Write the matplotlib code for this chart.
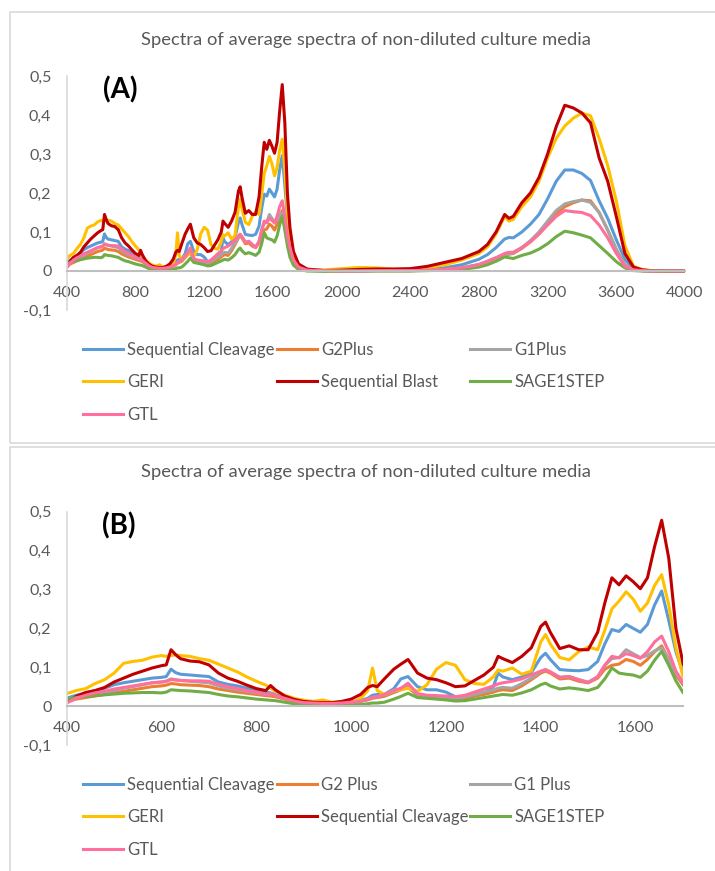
import matplotlib
matplotlib.use("Agg")
import matplotlib.pyplot as plt
from matplotlib.patches import Rectangle
from matplotlib.ticker import FuncFormatter
import numpy as np

plt.rcParams['font.family'] = ['Lato', 'DejaVu Sans']

# wavenumber grid (cm-1) used for all series
wavenumber = [
    400, 420, 440, 460, 480, 500, 520, 540, 560, 580,
    600, 610, 620, 630, 640, 660, 680, 700, 720, 740,
    760, 780, 800, 820, 830, 840, 860, 880, 900, 920,
    940, 960, 980, 1000, 1020, 1035, 1045, 1055, 1070, 1090,
    1105, 1120, 1140, 1160, 1180, 1200, 1220, 1240, 1260, 1280,
    1300, 1310, 1320, 1340, 1360, 1380, 1400, 1410, 1420, 1440,
    1460, 1480, 1500, 1520, 1535, 1550, 1565, 1580, 1595, 1610,
    1625, 1640, 1655, 1670, 1685, 1700, 1720, 1750, 1800, 1900,
    2000, 2100, 2200, 2300, 2400, 2500, 2600, 2700, 2800, 2850,
    2900, 2950, 2975, 3000, 3050, 3100, 3150, 3200, 3250, 3300,
    3350, 3400, 3450, 3500, 3550, 3600, 3650, 3700, 3750, 3800,
    3900, 4000,
]

seq_cleavage = [
    0.020, 0.028, 0.034, 0.040, 0.046, 0.055, 0.060, 0.064, 0.068, 0.072,
    0.074, 0.076, 0.095, 0.086, 0.082, 0.080, 0.078, 0.076, 0.062, 0.056,
    0.052, 0.046, 0.042, 0.036, 0.034, 0.030, 0.022, 0.015, 0.010, 0.008,
    0.007, 0.007, 0.008, 0.010, 0.015, 0.020, 0.028, 0.030, 0.030, 0.045,
    0.070, 0.076, 0.050, 0.042, 0.042, 0.036, 0.024, 0.020, 0.026, 0.033,
    0.050, 0.085, 0.075, 0.068, 0.075, 0.086, 0.125, 0.136, 0.120, 0.094,
    0.092, 0.091, 0.094, 0.115, 0.160, 0.197, 0.192, 0.210, 0.200, 0.190,
    0.210, 0.260, 0.296, 0.220, 0.140, 0.085, 0.040, 0.012, 0.003, 0.001,
    0.001, 0.001, 0.002, 0.002, 0.002, 0.004, 0.008, 0.016, 0.030, 0.042,
    0.060, 0.082, 0.086, 0.085, 0.100, 0.120, 0.145, 0.185, 0.230, 0.259,
    0.259, 0.250, 0.232, 0.180, 0.135, 0.080, 0.030, 0.004, 0.001, 0.000,
    0.000, 0.000,
]

g2plus = [
    0.012, 0.018, 0.022, 0.026, 0.030, 0.034, 0.038, 0.042, 0.046, 0.050,
    0.052, 0.054, 0.058, 0.057, 0.055, 0.054, 0.053, 0.050, 0.044, 0.040,
    0.036, 0.033, 0.030, 0.027, 0.026, 0.024, 0.018, 0.012, 0.008, 0.006,
    0.005, 0.005, 0.006, 0.008, 0.012, 0.016, 0.020, 0.022, 0.025, 0.035,
    0.042, 0.048, 0.028, 0.024, 0.022, 0.020, 0.018, 0.020, 0.026, 0.030,
    0.036, 0.040, 0.042, 0.040, 0.052, 0.068, 0.085, 0.090, 0.085, 0.070,
    0.072, 0.064, 0.060, 0.072, 0.095, 0.105, 0.108, 0.120, 0.115, 0.105,
    0.120, 0.140, 0.155, 0.120, 0.080, 0.055, 0.025, 0.008, 0.002, 0.001,
    0.000, 0.000, 0.001, 0.001, 0.001, 0.002, 0.004, 0.008, 0.016, 0.024,
    0.032, 0.040, 0.043, 0.045, 0.058, 0.075, 0.095, 0.120, 0.148, 0.165,
    0.175, 0.182, 0.180, 0.150, 0.105, 0.055, 0.015, 0.003, 0.001, 0.000,
    0.000, 0.000,
]

g1plus = [
    0.015, 0.022, 0.028, 0.032, 0.036, 0.040, 0.046, 0.050, 0.055, 0.060,
    0.062, 0.064, 0.070, 0.068, 0.066, 0.064, 0.062, 0.060, 0.052, 0.046,
    0.042, 0.038, 0.034, 0.030, 0.032, 0.028, 0.020, 0.013, 0.009, 0.007,
    0.006, 0.006, 0.007, 0.009, 0.013, 0.018, 0.022, 0.024, 0.028, 0.038,
    0.045, 0.052, 0.030, 0.026, 0.025, 0.022, 0.020, 0.024, 0.030, 0.036,
    0.042, 0.046, 0.048, 0.046, 0.058, 0.072, 0.088, 0.094, 0.088, 0.074,
    0.076, 0.068, 0.062, 0.075, 0.105, 0.122, 0.125, 0.145, 0.135, 0.125,
    0.130, 0.142, 0.150, 0.120, 0.085, 0.060, 0.028, 0.010, 0.002, 0.001,
    0.000, 0.000, 0.001, 0.001, 0.001, 0.002, 0.004, 0.008, 0.017, 0.025,
    0.034, 0.042, 0.044, 0.046, 0.060, 0.078, 0.100, 0.128, 0.155, 0.172,
    0.178, 0.182, 0.176, 0.150, 0.105, 0.055, 0.015, 0.003, 0.001, 0.000,
    0.000, 0.000,
]

geri = [
    0.032, 0.040, 0.045, 0.058, 0.068, 0.085, 0.110, 0.115, 0.118, 0.126,
    0.130, 0.128, 0.130, 0.132, 0.130, 0.128, 0.122, 0.118, 0.108, 0.098,
    0.088, 0.075, 0.064, 0.054, 0.046, 0.038, 0.028, 0.020, 0.015, 0.012,
    0.016, 0.010, 0.012, 0.008, 0.020, 0.040, 0.098, 0.040, 0.030, 0.040,
    0.042, 0.046, 0.038, 0.055, 0.095, 0.112, 0.105, 0.068, 0.058, 0.056,
    0.075, 0.093, 0.090, 0.098, 0.082, 0.090, 0.165, 0.184, 0.160, 0.125,
    0.119, 0.140, 0.152, 0.145, 0.195, 0.250, 0.270, 0.294, 0.275, 0.244,
    0.265, 0.310, 0.338, 0.260, 0.150, 0.076, 0.035, 0.012, 0.003, 0.003,
    0.006, 0.009, 0.008, 0.005, 0.004, 0.008, 0.016, 0.028, 0.045, 0.062,
    0.095, 0.140, 0.128, 0.132, 0.165, 0.190, 0.230, 0.290, 0.340, 0.372,
    0.392, 0.405, 0.398, 0.340, 0.270, 0.180, 0.065, 0.012, 0.004, 0.001,
    0.000, 0.000,
]

seq_blast = [
    0.010, 0.025, 0.035, 0.040, 0.048, 0.062, 0.072, 0.082, 0.090, 0.098,
    0.104, 0.106, 0.145, 0.132, 0.122, 0.116, 0.114, 0.106, 0.085, 0.072,
    0.064, 0.054, 0.045, 0.040, 0.053, 0.042, 0.026, 0.017, 0.012, 0.010,
    0.009, 0.009, 0.012, 0.018, 0.030, 0.048, 0.053, 0.050, 0.070, 0.095,
    0.108, 0.120, 0.085, 0.072, 0.068, 0.060, 0.050, 0.052, 0.066, 0.080,
    0.100, 0.128, 0.122, 0.112, 0.128, 0.150, 0.205, 0.216, 0.190, 0.148,
    0.155, 0.145, 0.145, 0.190, 0.265, 0.330, 0.312, 0.335, 0.320, 0.302,
    0.330, 0.410, 0.478, 0.380, 0.200, 0.110, 0.050, 0.018, 0.005, 0.001,
    0.002, 0.004, 0.005, 0.005, 0.006, 0.012, 0.022, 0.032, 0.050, 0.068,
    0.100, 0.145, 0.135, 0.140, 0.175, 0.200, 0.240, 0.300, 0.370, 0.425,
    0.418, 0.405, 0.380, 0.290, 0.230, 0.140, 0.045, 0.010, 0.003, 0.001,
    0.000, 0.000,
]

sage1step = [
    0.018, 0.022, 0.025, 0.027, 0.029, 0.031, 0.033, 0.034, 0.035, 0.035,
    0.034, 0.036, 0.042, 0.041, 0.040, 0.039, 0.037, 0.035, 0.030, 0.026,
    0.024, 0.021, 0.018, 0.016, 0.015, 0.014, 0.010, 0.006, 0.004, 0.003,
    0.002, 0.002, 0.002, 0.003, 0.004, 0.006, 0.008, 0.008, 0.010, 0.018,
    0.025, 0.033, 0.022, 0.020, 0.018, 0.016, 0.013, 0.014, 0.018, 0.022,
    0.026, 0.028, 0.030, 0.028, 0.034, 0.042, 0.055, 0.059, 0.052, 0.044,
    0.047, 0.044, 0.040, 0.048, 0.070, 0.098, 0.085, 0.082, 0.080, 0.074,
    0.090, 0.118, 0.141, 0.105, 0.065, 0.035, 0.015, 0.004, 0.000, -0.001,
    0.000, 0.000, 0.000, 0.000, 0.000, 0.001, 0.002, 0.004, 0.010, 0.016,
    0.025, 0.036, 0.034, 0.032, 0.040, 0.046, 0.056, 0.070, 0.088, 0.102,
    0.098, 0.092, 0.085, 0.065, 0.045, 0.024, 0.008, 0.001, 0.000, 0.000,
    0.000, 0.000,
]

gtl = [
    0.008, 0.020, 0.028, 0.034, 0.038, 0.044, 0.048, 0.052, 0.056, 0.060,
    0.062, 0.064, 0.068, 0.067, 0.066, 0.065, 0.065, 0.064, 0.056, 0.050,
    0.045, 0.040, 0.036, 0.030, 0.031, 0.027, 0.020, 0.013, 0.009, 0.008,
    0.007, 0.007, 0.008, 0.010, 0.013, 0.017, 0.022, 0.024, 0.030, 0.040,
    0.046, 0.059, 0.032, 0.028, 0.027, 0.026, 0.024, 0.028, 0.036, 0.044,
    0.052, 0.057, 0.060, 0.064, 0.070, 0.080, 0.090, 0.094, 0.088, 0.074,
    0.076, 0.068, 0.060, 0.076, 0.105, 0.128, 0.124, 0.135, 0.130, 0.123,
    0.140, 0.165, 0.180, 0.140, 0.090, 0.060, 0.028, 0.010, 0.002, 0.001,
    0.000, 0.000, 0.001, 0.001, 0.001, 0.002, 0.004, 0.008, 0.016, 0.025,
    0.034, 0.045, 0.048, 0.048, 0.060, 0.075, 0.095, 0.118, 0.140, 0.155,
    0.152, 0.150, 0.142, 0.118, 0.085, 0.045, 0.012, 0.003, 0.001, 0.000,
    0.000, 0.000,
]

series = [seq_cleavage, g2plus, g1plus, geri, seq_blast, sage1step, gtl]
colors = ['#5B9BD5', '#ED7D31', '#A5A5A5', '#FFC000', '#C00000', '#70AD47', '#FF6F9C']
labels_a = ['Sequential Cleavage', 'G2Plus', 'G1Plus', 'GERI', 'Sequential Blast', 'SAGE1STEP', 'GTL']
labels_b = ['Sequential Cleavage', 'G2 Plus', 'G1 Plus', 'GERI', 'Sequential Cleavage', 'SAGE1STEP', 'GTL']

title = 'Spectra of average spectra of non-diluted culture media'
text_grey = '#595959'
W, H = 715, 871

fig = plt.figure(figsize=(W / 100, H / 100), dpi=100)

# chart frames (Excel style boxes)
fig.add_artist(Rectangle((10 / W, 1 - 443 / H), 1.0, (443 - 12) / H, transform=fig.transFigure,
                         fill=False, edgecolor='#D9D9D9', lw=1.2))
fig.add_artist(Rectangle((10 / W, -0.01), 1.0, 1 - 447 / H + 0.01, transform=fig.transFigure,
                         fill=False, edgecolor='#D9D9D9', lw=1.2))


def yfmt(v, pos):
    if abs(v) < 1e-9:
        return '0'
    return ('%.1f' % v).replace('.', ',')


def draw_panel(rect, xmax, xticks, labels, tag, title_y, legend_y):
    ax = fig.add_axes(rect)
    wn = np.array(wavenumber)
    for ys, c, lab in zip(series, colors, labels):
        ax.plot(wn, ys, color=c, lw=2.2, label=lab, solid_joinstyle='round')
    ax.set_xlim(400, xmax)
    ax.set_ylim(-0.1, 0.5)
    ax.set_xticks(xticks)
    ax.set_yticks([-0.1, 0, 0.1, 0.2, 0.3, 0.4, 0.5])
    ax.yaxis.set_major_formatter(FuncFormatter(yfmt))
    for s in ['top', 'right']:
        ax.spines[s].set_visible(False)
    ax.spines['bottom'].set_position(('data', 0))
    ax.spines['bottom'].set_color('#BFBFBF')
    ax.spines['bottom'].set_linewidth(1.5)
    ax.spines['left'].set_color('#D9D9D9')
    ax.spines['left'].set_linewidth(1.2)
    ax.tick_params(axis='both', length=0, labelsize=11.5, labelcolor=text_grey)
    ax.tick_params(axis='x', pad=11)
    ax.tick_params(axis='y', pad=11)
    ax.text(0.058, 0.94, tag, transform=ax.transAxes, fontsize=20, fontweight='bold',
            color='black', va='center', ha='left')
    fig.text(366 / W, 1 - title_y / H, title, ha='center', va='center', fontsize=13.2, color=text_grey)

    handles = ax.get_lines()
    cols = [[0, 3, 6], [1, 4], [2, 5]]
    col_x = [83, 277, 470]
    for idx, cx in zip(cols, col_x):
        fig.legend([handles[i] for i in idx], [labels[i] for i in idx], loc='upper left',
                   bbox_to_anchor=(cx / W, 1 - legend_y / H), frameon=False, fontsize=12,
                   labelcolor=text_grey, handlelength=2.4, handletextpad=0.25,
                   labelspacing=0.98, borderpad=0, borderaxespad=0)
    return ax


draw_panel([66.7 / W, 1 - 310 / H, (685 - 66.7) / W, 234 / H], 4000,
           list(range(400, 4001, 400)), labels_a, '(A)', 40, 342)
draw_panel([66.7 / W, 1 - 745 / H, (683 - 66.7) / W, 233.3 / H], 1700,
           list(range(400, 1601, 200)), labels_b, '(B)', 472, 777)

fig.savefig('out.png', dpi=100)
